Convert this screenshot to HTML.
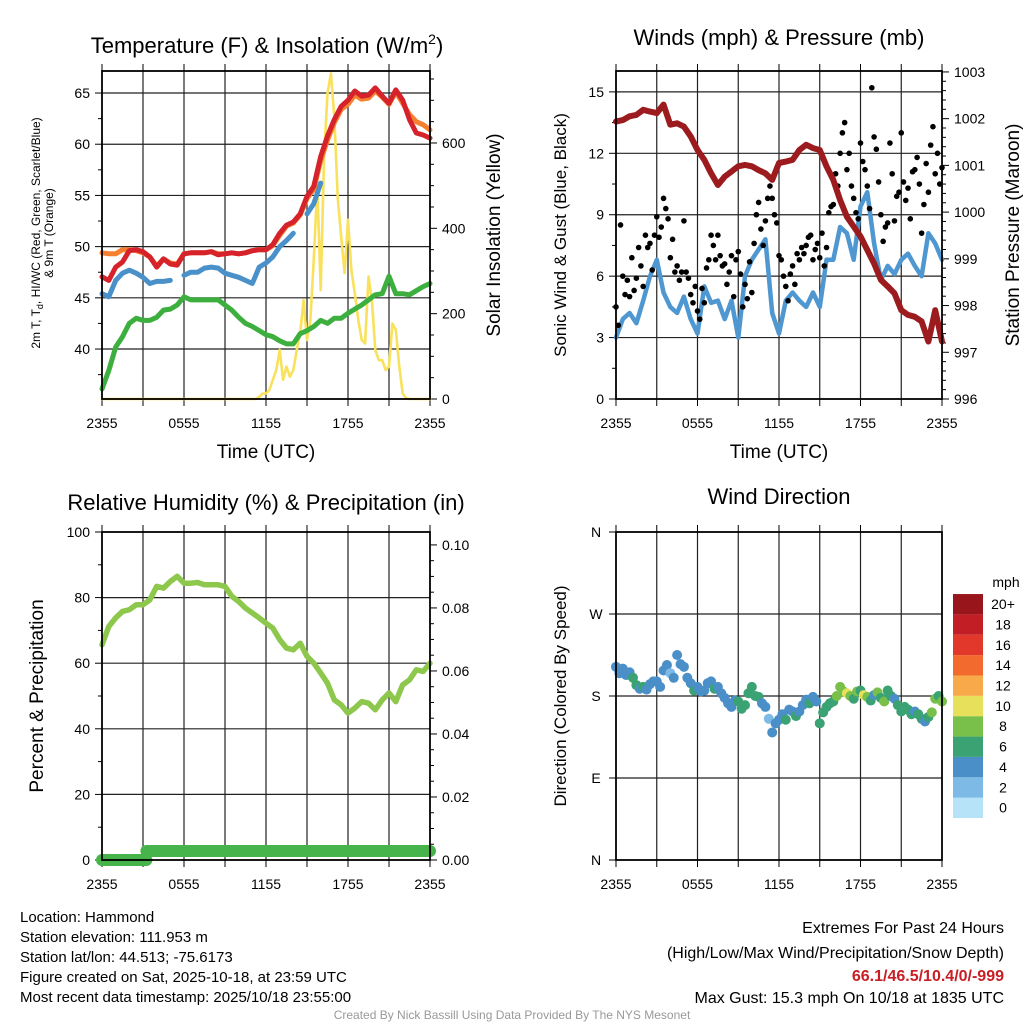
<!DOCTYPE html>
<html><head><meta charset="utf-8">
<style>
html,body{margin:0;padding:0;background:#fff;}
svg{display:block;font-family:"Liberation Sans",Arial,sans-serif;}
</style></head>
<body>
<svg id="fig" width="1024" height="1024" viewBox="0 0 1024 1024" xmlns="http://www.w3.org/2000/svg">
<rect width="1024" height="1024" fill="#fff"/>
<g id="layer"></g>
<text x="267" y="53" font-size="22" text-anchor="middle">Temperature (F) &amp; Insolation (W/m<tspan dy="-9" font-size="14">2</tspan><tspan dy="9">)</tspan></text>
<text x="779" y="45" font-size="22" text-anchor="middle">Winds (mph) &amp; Pressure (mb)</text>
<text x="266" y="510" font-size="22" text-anchor="middle">Relative Humidity (%) &amp; Precipitation (in)</text>
<text x="779" y="504" font-size="22" text-anchor="middle">Wind Direction</text>
<text x="266" y="458" font-size="19" text-anchor="middle">Time (UTC)</text>
<text x="779" y="458" font-size="19" text-anchor="middle">Time (UTC)</text>
<text transform="translate(40,233) rotate(-90)" font-size="12" text-anchor="middle">2m T, T<tspan dy="3" font-size="9">d</tspan><tspan dy="-3">, HI/WC (Red, Green, Scarlet/Blue)</tspan></text>
<text transform="translate(53,233) rotate(-90)" font-size="12" text-anchor="middle">&amp; 9m T (Orange)</text>
<text transform="translate(500,235) rotate(-90)" font-size="19" text-anchor="middle">Solar Insolation (Yellow)</text>
<text transform="translate(566,235) rotate(-90)" font-size="17" text-anchor="middle">Sonic Wind &amp; Gust (Blue, Black)</text>
<text transform="translate(1019,235) rotate(-90)" font-size="19" text-anchor="middle">Station Pressure (Maroon)</text>
<text transform="translate(43,696) rotate(-90)" font-size="19" text-anchor="middle">Percent &amp; Precipitation</text>
<text transform="translate(566,696) rotate(-90)" font-size="17" text-anchor="middle">Direction (Colored By Speed)</text>
<text x="1006" y="587" font-size="14" text-anchor="middle">mph</text>
<g font-size="15">
<text x="20" y="922">Location: Hammond</text>
<text x="20" y="942">Station elevation: 111.953 m</text>
<text x="20" y="962">Station lat/lon: 44.513; -75.6173</text>
<text x="20" y="982">Figure created on Sat, 2025-10-18, at 23:59 UTC</text>
<text x="20" y="1002">Most recent data timestamp: 2025/10/18 23:55:00</text>
</g>
<g font-size="16" text-anchor="end">
<text x="1004" y="933">Extremes For Past 24 Hours</text>
<text x="1004" y="958">(High/Low/Max Wind/Precipitation/Snow Depth)</text>
<text x="1004" y="981" fill="#c81e24" font-weight="bold">66.1/46.5/10.4/0/-999</text>
<text x="1004" y="1003">Max Gust: 15.3 mph On 10/18 at 1835 UTC</text>
</g>
<text x="512" y="1019" font-size="12" fill="#999" text-anchor="middle">Created By Nick Bassill Using Data Provided By The NYS Mesonet</text>
</svg>
<script>
const xTickLabels = ["2355","0555","1155","1755","2355"];
const tempRed = [47.05,46.7,48.0,48.5,49.6,49.7,49.5,49.0,48.0,48.8,48.3,48.2,49.3,49.4,49.4,49.4,49.5,49.2,49.3,49.4,49.3,49.4,49.6,49.7,49.7,50.2,51.3,52.1,52.4,53.2,54.9,55.9,58.8,60.8,62.4,63.7,64.3,65.2,64.7,64.8,65.5,64.7,64.0,65.3,64.3,62.4,61.1,60.9,60.6];
const tempOrange = [49.4,49.3,49.3,49.7,49.7,49.6,49.4,49.0,48.1,48.8,48.4,48.3,49.3,49.4,49.4,49.4,49.5,49.3,49.3,49.4,49.3,49.4,49.6,49.7,49.7,50.1,51.1,52.0,52.3,53.1,54.7,55.6,58.4,60.4,62.1,63.4,63.9,64.8,64.4,64.5,65.2,64.6,63.9,65.1,64.0,62.9,62.2,61.9,61.4];
const tempBlue = [45.4,45.1,46.7,47.4,47.7,47.4,47.0,46.4,46.6,46.6,46.7,null,47.2,47.5,47.5,47.9,48.0,47.9,47.4,47.2,47.0,46.7,46.4,48.0,48.4,49.0,50.0,50.6,51.3,null,53.2,54.2,56.2,null,null,null,null,null,null,null,null,null,null,null,null,null,null,null,null];
const tempGreen = [36.1,37.9,40.2,41.2,42.5,43.0,42.8,42.8,43.1,43.8,43.9,44.3,45.1,44.8,44.8,44.8,44.8,44.8,44.3,43.8,43.1,42.5,42.2,41.8,41.4,41.2,40.8,40.5,40.5,41.5,41.8,42.2,42.8,42.5,43.0,43.0,43.5,43.9,44.3,44.8,45.3,45.4,47.1,45.4,45.4,45.3,45.7,46.1,46.4];
const solarStart = 46;
const solarVals = [5,13,13,21,45,68,115,45,76,52,68,115,154,232,138,185,329,500,255,570,716,763,662,469,380,295,420,302,248,185,138,130,287,232,115,91,91,68,76,177,162,76,13,2];
const pressure = [1001.94,1001.97,1002.05,1002.08,1002.19,1002.15,1002.12,1002.3,1001.87,1001.9,1001.83,1001.62,1001.33,1001.12,1000.83,1000.58,1000.76,1000.87,1000.98,1001.01,1000.98,1000.9,1000.83,1000.69,1001.05,1001.08,1001.12,1001.33,1001.44,1001.37,1001.33,1000.98,1000.69,1000.26,999.9,999.69,999.48,999.19,998.9,998.55,998.41,998.26,997.9,997.8,997.76,997.66,997.23,997.9,997.23];
const windSpeed = [3.0,3.9,4.2,3.7,4.8,6.0,6.8,5.2,4.5,4.2,5.0,3.9,3.2,5.5,4.7,4.8,3.9,4.8,3.0,6.0,6.8,7.3,7.8,4.2,3.2,4.8,5.2,4.8,4.5,5.2,4.5,6.8,6.8,8.4,8.1,6.8,9.4,10.1,7.6,5.8,6.5,6.1,6.8,7.1,6.5,6.0,8.1,7.6,6.8];
// gusts, 10-min steps
const gusts = [4.5,3.6,8.5,6.0,5.1,5.8, 5.0,6.9,5.3,5.9,7.4,6.5, 5.5,8.0,7.4,7.6,6.3,8.0, 8.9,7.9,8.4,9.8,9.3,8.8, 6.9,7.8,6.2,6.5,5.8,6.2, 8.7,6.2,5.9,5.1,4.7,5.5, 4.3,3.9,5.4,4.7,6.4,6.8, 8.0,7.5,6.8,8.0,7.0,6.5, 6.6,5.6,6.2,7.0,5.0,6.8, 7.2,6.1,4.5,5.6,4.9,6.7, 5.2,7.6,9.0,9.6,8.3,7.5, 8.7,9.8,10.4,9.8,9.0,8.6, 7.0,6.8,6.0,5.5,4.8,6.1, 6.5,5.6,7.1,6.8,7.4,7.1, 7.5,7.9,8.0,6.8,7.3,7.6, 6.9,8.1,6.5,7.4,9.1,9.4, 9.5,11.0,10.4,12.0,13.0,13.5, 11.2,12.0,10.4,9.8,9.1,8.8, 12.5,11.6,11.2,10.4,9.3,15.2, 12.8,12.2,10.6,9.0,7.7,8.4, 8.6,12.5,11.0,8.7,9.9,10.1, 13.0,10.6,9.7,10.3,8.8,11.1, 11.2,11.8,10.5,8.1,9.5,11.5, 10.1,12.4,13.3,11.0,12.0,10.5, 11.3];
const humidity = [65.6,71.2,73.8,75.8,76.3,77.8,77.8,79.3,83.4,82.9,84.9,86.5,84.4,84.4,84.6,83.9,83.9,83.9,83.4,80.4,78.8,76.8,75.3,73.8,72.2,70.7,67.2,64.6,64.1,66.1,62.1,60.0,57.0,53.9,48.8,47.3,44.8,46.3,48.3,47.8,45.8,48.8,50.9,48.3,53.4,54.9,58.0,57.5,60.0];
const precipHours = [0,3.25,24];
const precipVals = [0,0,0];
// direction & speed, 15-min steps
const direction = [212,205,210,203,206,200,192,188,190,187,193,196,196,190,208,214,205,200,225,215,212,200,194,186,190,185,186,194,196,188,190,183,178,172,168,175,174,166,170,183,190,180,179,172,168,155,140,150,154,160,154,165,163,158,163,170,176,172,179,174,150,162,168,172,174,180,190,185,183,180,177,185,186,181,179,175,181,184,178,174,186,180,177,170,163,168,165,160,163,160,155,152,157,162,177,180,174];
const dirSpeed = [4.5,4.2,4.8,4.6,5,6.5,6.8,4.8,6.6,4.5,5.2,4.4,4.9, 4.6,5.1,4.3,3.8,4.7,5.0,4.4,4.6,5.1,4.8,6.3,4.4, 4.5,4.9,4.2,5.3,6.4,5.0,4.6,4.8,5.0,4.7,4.4,6.2, 6.5,7.1,6.8,6.3,7.8,6.6,4.5,4.2,3.8,4.6,4.9,5.0, 4.4,6.2,4.7,5.2,6.5,4.8,4.6,4.3,6.4,4.5,4.9,6.6, 6.8,6.5,7.2,6.9,8.5,9.2,8.3,10.5,8.8,7.0,8.6,6.7, 10.2,8.4,6.6,4.8,8.7,6.9,8.1,6.5,6.7,4.5,6.8,6.3, 6.6,6.2,7.0,4.6,6.4,6.8,4.4,6.9,8.2,8.5,6.6,8.0];
const cbLabels = ["0","2","4","6","8","10","12","14","16","18","20+"];
const cbColors = ["#b6e3f8","#7dbbe6","#4a8fc7","#3aa273","#79c04b","#e7e05b","#f8a94a","#f26a2e","#e2382c","#c21e26","#98151b"];

const NS="http://www.w3.org/2000/svg";
const layer=document.getElementById('layer');
function mk(tag,attrs,parent){const e=document.createElementNS(NS,tag);for(const k in attrs)e.setAttribute(k,attrs[k]);(parent||layer).appendChild(e);return e;}

const P1={x0:102,x1:430,y0:71,y1:399};
const P2={x0:616,x1:942,y0:71,y1:399};
const P3={x0:102,x1:430,y0:532,y1:860};
const P4={x0:616,x1:942,y0:532,y1:860};
function xs(P,h){return P.x0+(P.x1-P.x0)*h/24;}
function ys(P,v,lo,hi){return P.y1-(P.y1-P.y0)*(v-lo)/(hi-lo);}

function frame(P,name,hLines){
  const g=mk('g',{});
  
  
  for(let h=3;h<24;h+=3){const x=xs(P,h);const l=mk('line',{x1:x,x2:x,y1:P.y0,y2:P.y1,stroke:'#222','stroke-width':1.2},g);
    
    }
  hLines.forEach(y=>{const l=mk('line',{x1:P.x0,x2:P.x1,y1:y,y2:y,stroke:'#222','stroke-width':1.2},g);
    
    });
  for(let h=0;h<=24;h+=3){const x=xs(P,h);
    mk('line',{x1:x,x2:x,y1:P.y1,y2:P.y1+7,stroke:'#000','stroke-width':1},g);
    mk('line',{x1:x,x2:x,y1:P.y0,y2:P.y0-7,stroke:'#000','stroke-width':1},g);}
  xTickLabels.forEach((t,i)=>{const tx=mk('text',{x:xs(P,i*6),y:P.y1+29,'font-size':14,'text-anchor':'middle'},g);tx.textContent=t;
    
    });
}
function border(P,name){const r=mk('rect',{x:P.x0,y:P.y0,width:P.x1-P.x0,height:P.y1-P.y0,fill:'none',stroke:'#000','stroke-width':1.8});
  
  }
function yTicks(P,side,lo,hi,major,minor,fmt,name){
  const g=mk('g',{});
  
  
  const xa=side==='l'?P.x0:P.x1,d=side==='l'?-1:1;
  const start=Math.ceil(lo/minor-1e-6)*minor;
  for(let v=start;v<=hi+1e-9;v+=minor){const y=ys(P,v,lo,hi);const isMaj=Math.abs(v/major-Math.round(v/major))<1e-6;
    mk('line',{x1:xa,x2:xa+d*(isMaj?7:4),y1:y,y2:y,stroke:'#000','stroke-width':1},g);
    if(isMaj){const t=mk('text',{x:xa+d*12,y:y+5,'font-size':14,'text-anchor':side==='l'?'end':'start'},g);t.textContent=fmt(v);
      
      }}
}
function path(pts,attrs,name){let d='',pen=false;pts.forEach(p=>{if(p==null){pen=false;return;}d+=(pen?'L':'M')+p[0].toFixed(1)+','+p[1].toFixed(1);pen=true;});
  const e=mk('path',Object.assign({d:d,fill:'none','stroke-linejoin':'round','stroke-linecap':'round'},attrs));
  
  return e;}

// Panel 1
const T_LO=35.12,T_HI=67.15,S_LO=0,S_HI=768.7;
frame(P1,'temp',[40,45,50,55,60,65].map(v=>ys(P1,v,T_LO,T_HI)));
yTicks(P1,'l',T_LO,T_HI,5,2.5,v=>Math.round(v),'temp-y-axis');
yTicks(P1,'r',S_LO,S_HI,200,50,v=>Math.round(v),'solar-y-axis');
const solarPts=[];for(let j=0;j<=96;j++){const k=j-solarStart;const v=(k>=0&&k<solarVals.length)?solarVals[k]:0;solarPts.push([xs(P1,j/4),ys(P1,v,S_LO,S_HI)]);}
path(solarPts,{stroke:'#f9e15c','stroke-width':2.6},'solar-insolation-line');
path(tempGreen.map((v,i)=>v==null?null:[xs(P1,i/2),ys(P1,v,T_LO,T_HI)]),{stroke:'#3caf3f','stroke-width':5},'dewpoint-line');
path(tempBlue.map((v,i)=>v==null?null:[xs(P1,i/2),ys(P1,v,T_LO,T_HI)]),{stroke:'#4b91c9','stroke-width':5},'wind-chill-line');
path(tempOrange.map((v,i)=>[xs(P1,i/2),ys(P1,v,T_LO,T_HI)]),{stroke:'#f5802f','stroke-width':5},'temp-9m-line');
path(tempRed.map((v,i)=>[xs(P1,i/2),ys(P1,v,T_LO,T_HI)]),{stroke:'#d6222a','stroke-width':5},'temp-2m-line');
border(P1,'temp');

// Panel 2
const W_LO=0,W_HI=16.02,PR_LO=996,PR_HI=1003.02;
frame(P2,'wind',[3,6,9,12,15].map(v=>ys(P2,v,W_LO,W_HI)));
yTicks(P2,'l',W_LO,W_HI,3,1.5,v=>Math.round(v),'wind-y-axis');
yTicks(P2,'r',PR_LO,PR_HI,1,0.2,v=>Math.round(v),'pressure-y-axis');
path(windSpeed.map((v,i)=>[xs(P2,i/2),ys(P2,v,W_LO,W_HI)]),{stroke:'#4f97d0','stroke-width':4.5},'wind-speed-line');
gusts.forEach((v,i)=>{const c=mk('circle',{cx:xs(P2,i/6),cy:ys(P2,v,W_LO,W_HI),r:2.8,fill:'#000'});
  
  });
path(pressure.map((v,i)=>[xs(P2,i/2),ys(P2,v,PR_LO,PR_HI)]),{stroke:'#9b1b1f','stroke-width':6},'pressure-line');
border(P2,'wind');

// Panel 3
const RH_LO=0,RH_HI=100,PC_LO=0,PC_HI=0.1041;
frame(P3,'humidity',[20,40,60,80].map(v=>ys(P3,v,RH_LO,RH_HI)));
yTicks(P3,'l',RH_LO,RH_HI,20,10,v=>Math.round(v),'humidity-y-axis');
yTicks(P3,'r',PC_LO,PC_HI,0.02,0.005,v=>v.toFixed(2),'precip-y-axis');
path(humidity.map((v,i)=>[xs(P3,i/2),ys(P3,v,RH_LO,RH_HI)]),{stroke:'#8dc84c','stroke-width':5.5},'humidity-line');
path([[xs(P3,precipHours[0]),ys(P3,precipVals[0],PC_LO,PC_HI)],[xs(P3,precipHours[1]),ys(P3,precipVals[1],PC_LO,PC_HI)]],{stroke:'#46b44a','stroke-width':12},'snow-depth-line');
path([[xs(P3,precipHours[1]),ys(P3,precipVals[1],PC_LO,PC_HI)-9],[xs(P3,precipHours[2]),ys(P3,precipVals[2],PC_LO,PC_HI)-9]],{stroke:'#46b44a','stroke-width':12},'precipitation-line');
border(P3,'humidity');

// Panel 4
const D_LO=0,D_HI=360;
frame(P4,'direction',[90,180,270].map(v=>ys(P4,v,D_LO,D_HI)));
(function(){const g=mk('g',{});
  
  
  ["N","E","S","W","N"].forEach((t,i)=>{const y=ys(P4,i*90,D_LO,D_HI);mk('line',{x1:P4.x0,x2:P4.x0-7,y1:y,y2:y,stroke:'#000'},g);
    const tx=mk('text',{x:P4.x0-20,y:y+5,'font-size':14,'text-anchor':'middle'},g);tx.textContent=t;
    
    });})();
direction.forEach((v,i)=>{const s=dirSpeed[i];const bin=Math.min(10,Math.floor(s/2));
  const c=mk('circle',{cx:xs(P4,i/4),cy:ys(P4,v,D_LO,D_HI),r:5,fill:cbColors[bin]});
  
  });
border(P4,'direction');
cbLabels.forEach((t,i)=>{const y=818-(i+1)*20.36;const r=mk('rect',{x:953,y:y,width:30,height:20.36,fill:cbColors[i]});
  
  
  const tx=mk('text',{x:1003,y:y+15,'font-size':14,'text-anchor':'middle'});tx.textContent=t;
  
  });
</script>
</body></html>
